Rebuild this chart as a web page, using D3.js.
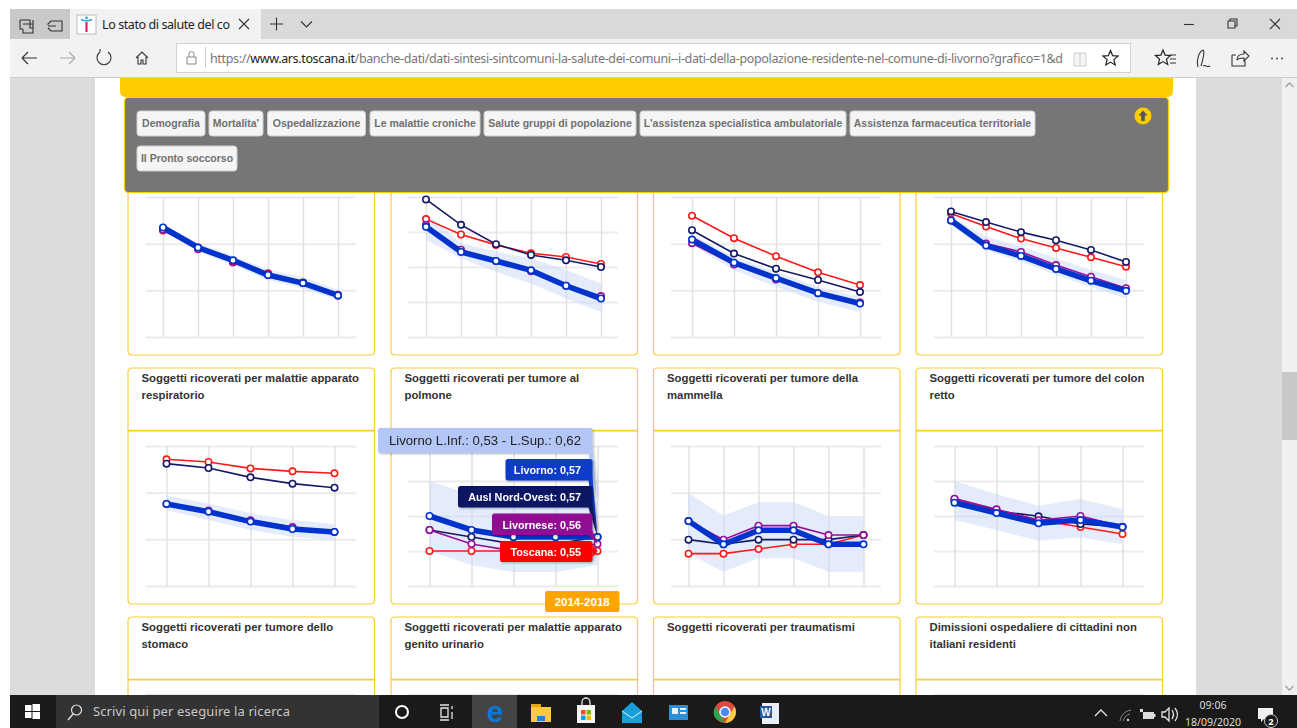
<!DOCTYPE html>
<html>
<head>
<meta charset="utf-8">
<title>Lo stato di salute del comune di Livorno</title>
<script src="https://cdn.jsdelivr.net/npm/d3@7"></script>
<style>
  body { margin: 0; background: #fff; overflow: hidden; }
  text { font-family: "Liberation Sans", Arial, sans-serif; }
  .ui { font-family: "Noto Sans", "Open Sans", sans-serif; }
  .grid path { display: none; }
  .grid-y line { stroke: #ebebeb; stroke-width: 2; }
  .grid-x line { stroke: #e0e0e0; stroke-width: 1.4; }
</style>
</head>
<body>
<svg id="page" width="1297" height="728"></svg>
<script>
// periods on the x axis (only the last one is readable in the picture)
let years6 = ['2013', '2014', '2015', '2016', '2017', '2018'];
let years5 = ['2010-2014', '2011-2015', '2012-2016', '2013-2017', '2014-2018'];

// the y axes have no labels, so most values are in % of the axis height
let ticks4 = [0, 33.33, 66.67, 100];
let ticks5 = [0, 25, 50, 75, 100];
let ticksUrinario = [0.50, 0.55, 0.60, 0.65, 0.70];

let seriesNames = ['Toscana', 'Ausl Nord-Ovest', 'Livornese', 'Livorno'];

let titles = [
  ['Soggetti ricoverati per malattie apparato', 'respiratorio'],
  ['Soggetti ricoverati per tumore al', 'polmone'],
  ['Soggetti ricoverati per tumore della', 'mammella'],
  ['Soggetti ricoverati per tumore del colon', 'retto'],
  ['Soggetti ricoverati per tumore dello', 'stomaco'],
  ['Soggetti ricoverati per malattie apparato', 'genito urinario'],
  ['Soggetti ricoverati per traumatismi'],
  ['Dimissioni ospedaliere di cittadini non', 'italiani residenti']
];

// malattie apparato respiratorio
let respToscana = [76.1, 63.9, 53.3, 45.5, 39.0, 29.9];
let respAusl = [77.0, 63.4, 54.3, 44.5, 38.8, 29.7];
let respLivornese = [76.6, 62.7, 53.6, 45.0, 38.5, 30.1];
let respLivorno = [78.2, 63.9, 54.8, 44.3, 38.5, 29.7];
let respInf = [75.4, 61.0, 51.4, 40.7, 34.7, 26.3];
let respSup = [80.6, 67.0, 58.1, 48.3, 42.6, 33.5];

// tumore al polmone
let polmToscana = [84.2, 73.2, 65.8, 59.8, 57.2, 52.2];
let polmAusl = [98.3, 80.1, 66.3, 58.6, 54.8, 50.0];
let polmLivornese = [80.1, 62.4, 54.3, 46.9, 36.6, 29.2];
let polmLivorno = [78.7, 60.8, 54.3, 47.6, 36.6, 27.5];
let polmInf = [69.4, 56.2, 46.6, 38.3, 27.5, 17.9];
let polmSup = [88.5, 66.9, 61.0, 56.2, 47.8, 38.3];

// tumore della mammella
let mammToscana = [86.6, 70.6, 57.7, 46.2, 37.1];
let mammAusl = [76.3, 59.6, 48.8, 40.7, 32.1];
let mammLivornese = [67.0, 51.7, 41.1, 31.3, 24.6];
let mammLivorno = [69.6, 53.1, 42.1, 31.3, 23.9];
let mammInf = [65.8, 47.8, 35.9, 25.1, 17.9];
let mammSup = [73.0, 57.4, 46.7, 35.9, 28.7];

// tumore del colon retto
let colonToscana = [88.3, 78.9, 70.3, 63.6, 56.9, 50.2];
let colonAusl = [89.7, 82.1, 74.9, 69.1, 62.2, 53.6];
let colonLivornese = [83.3, 66.7, 60.8, 51.4, 43.1, 34.9];
let colonLivorno = [83.3, 65.3, 57.9, 48.6, 40.2, 33.0];
let colonInf = [80.1, 62.2, 53.8, 44.3, 35.9, 27.5];
let colonSup = [86.1, 71.8, 64.6, 56.2, 47.8, 40.7];

// tumore dello stomaco
let stomToscana = [90.5, 88.6, 84.0, 81.9, 80.5];
let stomAusl = [87.4, 84.3, 77.6, 73.1, 70.2];
let stomLivornese = [58.6, 54.0, 46.9, 42.1, 38.6];
let stomLivorno = [58.6, 53.1, 46.0, 40.7, 38.6];
let stomInf = [54.3, 47.1, 40.0, 35.2, 32.9];
let stomSup = [64.5, 59.0, 51.9, 47.1, 44.3];

// malattie apparato genito urinario (the tooltip gives the real values)
let uriToscana = [0.55, 0.55, 0.55, 0.55, 0.55];
let uriAusl = [0.58, 0.57, 0.56, 0.56, 0.57];
let uriLivornese = [0.58, 0.56, 0.55, 0.55, 0.56];
let uriLivorno = [0.60, 0.58, 0.57, 0.57, 0.57];
let uriInf = [0.55, 0.53, 0.52, 0.52, 0.53];
let uriSup = [0.65, 0.63, 0.62, 0.62, 0.62];

// traumatismi
let traumToscana = [23.1, 23.1, 26.4, 29.8, 29.8, 36.4];
let traumAusl = [33.1, 29.8, 33.1, 33.1, 33.1, 36.4];
let traumLivornese = [46.4, 33.1, 43.1, 43.1, 36.4, 36.4];
let traumLivorno = [46.4, 29.8, 39.8, 39.8, 29.8, 29.8];
let traumInf = [23.3, 10.2, 19.8, 19.8, 10.2, 10.2];
let traumSup = [66.2, 50.2, 59.8, 59.8, 50.0, 50.0];

// dimissioni cittadini non italiani
let dimToscana = [62.1, 54.3, 47.1, 42.1, 37.1];
let dimAusl = [60.7, 53.6, 49.8, 44.3, 42.1];
let dimLivornese = [62.4, 54.8, 46.9, 50.0, 42.4];
let dimLivorno = [59.5, 52.1, 44.8, 47.1, 42.1];
let dimInf = [47.1, 40.0, 32.4, 34.8, 29.8];
let dimSup = [75.0, 65.5, 57.4, 62.1, 55.0];

let menuLabels = ['Demografia', "Mortalita'", 'Ospedalizzazione', 'Le malattie croniche',
  'Salute gruppi di popolazione', "L'assistenza specialistica ambulatoriale",
  'Assistenza farmaceutica territoriale', 'Il Pronto soccorso'];

// table used by the drawing code
let charts = [
  { x: years6, ticks: ticks4, lines: [respToscana, respAusl, respLivornese, respLivorno], low: respInf, high: respSup },
  { x: years6, ticks: ticks5, lines: [polmToscana, polmAusl, polmLivornese, polmLivorno], low: polmInf, high: polmSup },
  { x: years5, ticks: ticks4, lines: [mammToscana, mammAusl, mammLivornese, mammLivorno], low: mammInf, high: mammSup },
  { x: years6, ticks: ticks4, lines: [colonToscana, colonAusl, colonLivornese, colonLivorno], low: colonInf, high: colonSup },
  { x: years5, ticks: ticks4, lines: [stomToscana, stomAusl, stomLivornese, stomLivorno], low: stomInf, high: stomSup },
  { x: years5, ticks: ticksUrinario, lines: [uriToscana, uriAusl, uriLivornese, uriLivorno], low: uriInf, high: uriSup },
  { x: years6, ticks: ticks4, lines: [traumToscana, traumAusl, traumLivornese, traumLivorno], low: traumInf, high: traumSup },
  { x: years5, ticks: ticks5, lines: [dimToscana, dimAusl, dimLivornese, dimLivorno], low: dimInf, high: dimSup }
];

// layout of the page
let config = {
  colors: ['#ff1a1a', '#141a66', '#990f99', '#0033cc'],
  widths: [1.6, 1.6, 1.6, 5.6],
  band: '#c9d7f8',
  gold: '#ffcc33',
  colLeft: [128, 391, 653.5, 916],
  panelWidth: 246.5,
  rowTop: [182, 431, 680],
  panelHeight: 173,
  plot: { left: 17.5, top: 15, width: 210, height: 140 }
};

let svg = d3.select('#page');

let defs = svg.append('defs');
defs.append('filter').attr('id', 'tipShadow')
  .attr('x', '-10%').attr('y', '-20%').attr('width', '125%').attr('height', '160%')
  .append('feDropShadow')
  .attr('dx', 1).attr('dy', 1).attr('stdDeviation', 1.2)
  .attr('flood-color', '#000').attr('flood-opacity', 0.3);

drawPage();
drawPanels();
drawMenu();
drawTooltips();
drawBrowser();
drawTaskbar();

function drawPage() {
  rect(svg, 10, 78, 85, 617, '#dcdcdc');
  rect(svg, 1196, 78, 86, 617, '#dcdcdc');
  rect(svg, 1282, 78, 15, 617, '#f0f0f0');
  rect(svg, 1282, 372, 15, 68, '#c8c8c8');
  chevron(svg, 1289.5, 85, 4, -1, '#a0a0a0');
  chevron(svg, 1289.5, 688, 4, 1, '#a0a0a0');
}

function drawPanels() {
  // frames first, the title box ends just above the next chart so the join looks thicker
  config.colLeft.forEach(left => {
    config.rowTop.forEach((top, r) => {
      if (r < 2) {
        let t = top + config.panelHeight + 13;
        frame(left, t, config.panelWidth, top + 248.4 - t, 4, 0);
      }
      frame(left, top, config.panelWidth, config.panelHeight, 0, 4);
    });
    // the top gridline of the third row just shows above the taskbar
    svg.append('line')
      .attr('x1', left + config.plot.left).attr('x2', left + config.plot.left + config.plot.width)
      .attr('y1', 694.5).attr('y2', 694.5)
      .attr('stroke', '#e4e4e4').attr('stroke-width', 1);
  });

  charts.forEach((c, i) => {
    let col = i % 4;
    let row = Math.floor(i / 4);
    let left = config.colLeft[col];
    let top = config.rowTop[row];

    let text = svg.append('text')
      .attr('fill', '#333')
      .attr('font-size', 11.35)
      .attr('font-weight', 'bold');
    titles[i].forEach((t, k) => {
      text.append('tspan')
        .attr('x', left + 13.5)
        .attr('y', top + config.panelHeight + 27 + k * 17)
        .text(t);
    });

    drawChart(c, left + config.plot.left, top + config.plot.top);
  });
}

function scalesFor(c) {
  let x = d3.scalePoint().domain(c.x).range([0, config.plot.width]).padding(0.5);
  let y = d3.scaleLinear()
    .domain([c.ticks[0], c.ticks[c.ticks.length - 1]])
    .range([config.plot.height, 0]);
  return { x: x, y: y };
}

function drawChart(c, px, py) {
  let s = scalesFor(c);
  let plot = svg.append('g').attr('transform', translate(px, py));

  plot.append('g').attr('class', 'grid grid-y')
    .call(d3.axisLeft(s.y).tickValues(c.ticks).tickSize(-config.plot.width).tickFormat(''));
  plot.append('g').attr('class', 'grid grid-x')
    .attr('transform', translate(0, config.plot.height))
    .call(d3.axisBottom(s.x).tickSize(-config.plot.height).tickFormat(''));

  let area = d3.area()
    .x((d, i) => s.x(c.x[i]))
    .y0((d, i) => s.y(c.low[i]))
    .y1(d => s.y(d));
  plot.append('path')
    .datum(c.high)
    .attr('d', area)
    .attr('fill', config.band)
    .attr('fill-opacity', 0.5);

  let line = d3.line()
    .x((d, i) => s.x(c.x[i]))
    .y(d => s.y(d));

  c.lines.forEach((values, k) => {
    plot.append('path')
      .datum(values)
      .attr('d', line)
      .attr('fill', 'none')
      .attr('stroke', config.colors[k])
      .attr('stroke-width', config.widths[k]);
    plot.selectAll(null)
      .data(values)
      .enter().append('circle')
      .attr('cx', (d, i) => s.x(c.x[i]))
      .attr('cy', d => s.y(d))
      .attr('r', 3.2)
      .attr('fill', '#fff')
      .attr('stroke', config.colors[k])
      .attr('stroke-width', 1.6);
  });
}

function drawMenu() {
  // yellow bar and grey box
  svg.append('path')
    .attr('d', 'M120,78H1173V91Q1173,97 1167,97H126Q120,97 120,91Z')
    .attr('fill', '#ffcc00');
  svg.append('rect')
    .attr('x', 124.5).attr('y', 97.5).attr('width', 1044).attr('height', 95)
    .attr('rx', 4)
    .attr('fill', '#767676').attr('stroke', '#ffcc00').attr('stroke-width', 1.2);

  let boxes = [[137, 68], [209, 54], [267.5, 98], [370, 110], [484, 152], [640, 206], [850, 185], [137, 100]];
  boxes.forEach((b, i) => {
    let y = i == 7 ? 146 : 111;
    svg.append('rect')
      .attr('x', b[0]).attr('y', y).attr('width', b[1]).attr('height', 25)
      .attr('rx', 3)
      .attr('fill', '#f5f5f5').attr('stroke', '#cfcfcf');
    svg.append('text')
      .attr('x', b[0] + b[1] / 2).attr('y', y + 16)
      .attr('text-anchor', 'middle')
      .attr('font-size', 10.5).attr('font-weight', 'bold')
      .attr('fill', '#707070')
      .text(menuLabels[i]);
  });

  svg.append('circle').attr('cx', 1143).attr('cy', 116).attr('r', 8.5).attr('fill', '#ffcc00');
  svg.append('path')
    .attr('d', 'M1143,110.5L1147.5,115.5H1144.8V121H1141.2V115.5H1138.5Z')
    .attr('fill', '#555');
}

function drawTooltips() {
  let c = charts[5];
  let s = scalesFor(c);
  let px = config.colLeft[1] + config.plot.left;
  let py = config.rowTop[1] + config.plot.top;
  let last = c.x.length - 1;
  let tipX = px + s.x(c.x[last]);
  let right = 592.5;
  let comma = v => v.toFixed(2).replace('.', ',');

  // one tooltip for the limits, then one per series
  let tips = [
    { left: 378, top: 428, h: 25, fill: '#b3c6f5', color: '#222', size: 13.2, weight: 'normal',
      value: c.high[last], label: 'Livorno L.Inf.: ' + comma(c.low[last]) + ' - L.Sup.: ' + comma(c.high[last]) },
    { left: 505.5, top: 459, h: 21.5, fill: '#0b3cc8', color: '#fff', size: 10.8, weight: 'bold',
      value: c.lines[3][last], label: seriesNames[3] + ': ' + comma(c.lines[3][last]) },
    { left: 458, top: 486, h: 21.5, fill: '#0b1464', color: '#fff', size: 10.8, weight: 'bold',
      value: c.lines[1][last], label: seriesNames[1] + ': ' + comma(c.lines[1][last]) },
    { left: 492, top: 513.5, h: 21.5, fill: '#930f93', color: '#fff', size: 10.8, weight: 'bold',
      value: c.lines[2][last], label: seriesNames[2] + ': ' + comma(c.lines[2][last]) },
    { left: 500, top: 541, h: 21, fill: '#ff0000', color: '#fff', size: 10.8, weight: 'bold',
      value: c.lines[0][last], label: seriesNames[0] + ': ' + comma(c.lines[0][last]) }
  ];

  tips.forEach(t => {
    let g = svg.append('g').attr('filter', 'url(#tipShadow)');
    let ty = py + s.y(t.value);
    let bottom = t.top + t.h;
    // thin tail from the box corner to the point of the series
    let tail = ty > bottom
      ? [[right - 4, bottom], [right, bottom - 4], [tipX, ty]]
      : [[right, ty - 6], [tipX, ty], [right, ty + 6]];
    g.append('rect')
      .attr('x', t.left).attr('y', t.top).attr('width', right - t.left).attr('height', t.h)
      .attr('rx', 2.5)
      .attr('fill', t.fill);
    g.append('path')
      .attr('d', 'M' + tail.join('L') + 'Z')
      .attr('fill', t.fill);
    g.append('text')
      .attr('x', 581).attr('y', t.top + t.h / 2 + 4.3)
      .attr('text-anchor', 'end')
      .attr('font-size', t.size)
      .attr('font-weight', t.weight)
      .attr('fill', t.color)
      .text(t.label);
  });

  // period label on the x axis
  rect(svg, 545, 591, 74.5, 21, '#ffa500').attr('rx', 2);
  svg.append('text')
    .attr('x', 582.2).attr('y', 605.5)
    .attr('text-anchor', 'middle')
    .attr('font-size', 11.5).attr('font-weight', 'bold')
    .attr('fill', '#fff')
    .text(c.x[last]);
}

function drawBrowser() {
  rect(svg, 10, 9, 1287, 30, '#d9d9d9');
  rect(svg, 10, 9, 60, 30, '#c9c9c9');
  rect(svg, 70, 9, 191, 30, '#f2f2f2');
  rect(svg, 10, 39, 1287, 38, '#f2f2f2');
  rect(svg, 10, 77, 1287, 1, '#cccccc');

  // tab buttons
  let stroke = { fill: 'none', stroke: '#333', 'stroke-width': 1.1 };
  icon('M20,20h10v8h3v-8M20,20v9h3M23,24h10v9h-10v-4', stroke);
  icon('M49,24h-1l3,-3h11v10h-11l-3,-3M48,26h8', stroke);

  // favicon
  rect(svg, 77, 15, 19, 19, '#fff').attr('stroke', '#bbb');
  icon('M81,19.5C84,21 89,21 92,19.5', { fill: 'none', stroke: '#25a7dc', 'stroke-width': 1.8 });
  icon('M86.5,22V32', { fill: 'none', stroke: '#e0245e', 'stroke-width': 2.2 });
  svg.append('circle').attr('cx', 86.5).attr('cy', 17.8).attr('r', 1.4).attr('fill', '#25a7dc');

  uiText(102, 28.5, 'Lo stato di salute del co', 12.5, '#222').attr('textLength', 128);
  icon('M239,19l10,10M249,19l-10,10', stroke);
  icon('M270,24h13M276.5,17.5v13', stroke);
  icon('M301,21.5l5.5,5.5l5.5,-5.5', stroke);

  // window controls
  icon('M1184,24.5h10', stroke);
  icon('M1228,21h7v7h-7zM1230,21v-2h7v7h-2', stroke);
  icon('M1270,19l10,10M1280,19l-10,10', stroke);

  // navigation
  icon('M22,58h15M22,58l6,-6M22,58l6,6', stroke);
  icon('M60,58h15M75,58l-6,-6M75,58l-6,6', { fill: 'none', stroke: '#aaa', 'stroke-width': 1.1 });
  icon('M100,52a7,7 0 1 0 8,0M100,52v-3', stroke);
  icon('M136,58l6,-6l6,6M138,57v7h3v-4h2v4h3v-7', stroke);

  // address bar
  svg.append('rect')
    .attr('x', 176.5).attr('y', 43.5).attr('width', 954).attr('height', 29)
    .attr('fill', '#fff').attr('stroke', '#d2d2d2');
  icon('M187,57h9v7h-9zM189,57v-3a2.5,2.5 0 0 1 5,0v3', { fill: 'none', stroke: '#888', 'stroke-width': 1 });
  rect(svg, 205, 47, 1, 21, '#ccc');

  let url = uiText(210, 63, '', 12.5, '#767676').attr('textLength', 853);
  url.append('tspan').text('https://');
  url.append('tspan').attr('fill', '#222').text('www.ars.toscana.it');
  url.append('tspan').text('/banche-dati/dati-sintesi-sintcomuni-la-salute-dei-comuni--i-dati-della-popolazione-residente-nel-comune-di-livorno?grafico=1&d');

  icon('M1074,53h12v13h-12zM1080,53v13', { fill: '#f5f5f5', stroke: '#ccc', 'stroke-width': 1 });
  star(1110.5, 58.5, '#222');
  star(1163, 58, '#222');
  icon('M1170,55h6M1170,59h6M1170,63h6', stroke);
  icon('M1198,67C1196,60 1199,52 1203,50C1205,50 1203,60 1201,66M1203,66c2,-2 4,2 7,0', stroke);
  icon('M1232,55h4M1232,55v11h13v-5M1237,60c0,-4 3,-6 7,-6v-3l5,5l-5,5v-3c-3,0 -5,0 -7,2', stroke);
  [1272, 1277, 1282].forEach(x => {
    svg.append('circle').attr('cx', x).attr('cy', 58.5).attr('r', 0.9).attr('fill', '#333');
  });
}

function drawTaskbar() {
  rect(svg, 10, 695, 1287, 33, '#1a1a1a');
  rect(svg, 56, 695, 323, 33, '#333');

  // windows logo
  [[25, 705, 6.5, 6], [32.5, 704, 7.5, 7], [25, 712, 6.5, 6], [32.5, 712, 7.5, 7]].forEach(d => {
    rect(svg, d[0], d[1], d[2], d[3], '#fff');
  });

  let white = { fill: 'none', stroke: '#e6e6e6', 'stroke-width': 1.3 };
  svg.append('circle').attr('cx', 76.5).attr('cy', 710).attr('r', 5)
    .attr('fill', 'none').attr('stroke', '#ddd').attr('stroke-width', 1.2);
  icon('M73,714l-5,6', white);
  uiText(93, 716, 'Scrivi qui per eseguire la ricerca', 13, '#c8c8c8').attr('textLength', 197);

  svg.append('circle').attr('cx', 402).attr('cy', 712).attr('r', 6)
    .attr('fill', 'none').attr('stroke', '#fff').attr('stroke-width', 2);
  icon('M440,705h9M440,720h9M441,708h7v9h-7zM452,706v3M452,712v7', white);

  // edge
  rect(svg, 472, 695, 45, 33, '#444');
  svg.append('text').attr('x', 495).attr('y', 722).attr('text-anchor', 'middle')
    .attr('font-size', 30).attr('font-weight', 'bold').attr('fill', '#0a78d7').text('e');

  // folder
  rect(svg, 531, 704, 10, 4, '#e0a800');
  rect(svg, 531, 707, 20, 15, '#ffc83d');
  rect(svg, 537, 716, 8, 5, '#2a7de1');

  // store
  rect(svg, 577, 705, 18, 18, '#f5f5f5');
  icon('M582,705v-3a4,4 0 0 1 8,0v3', white);
  [[581, 710, '#f25022'], [586.5, 710, '#7fba00'], [581, 715.5, '#00a4ef'], [586.5, 715.5, '#ffb900']].forEach(d => {
    rect(svg, d[0], d[1], 4.5, 4.5, d[2]);
  });

  // mail
  icon('M622,711l10,-9l10,9v12h-20z', { fill: '#18a0dc', stroke: 'none' });
  icon('M622,711l10,7l10,-7', { fill: 'none', stroke: '#d6f0fb', 'stroke-width': 1 });

  // news
  rect(svg, 669, 705, 19, 15, '#2b8fd8');
  rect(svg, 672, 708, 6, 6, '#e8f4fc');
  rect(svg, 680, 708, 6, 2, '#e8f4fc');
  rect(svg, 680, 712, 6, 2, '#e8f4fc');

  // chrome
  svg.append('circle').attr('cx', 725).attr('cy', 712).attr('r', 11).attr('fill', '#dd4b3e');
  icon('M715.5,706.5L725,723L716,719A11,11 0 0 1 715.5,706.5Z', { fill: '#2da44e', stroke: 'none' });
  icon('M725,723L734.5,706.5A11,11 0 0 1 725,723Z', { fill: '#ffcd40', stroke: 'none' });
  svg.append('circle').attr('cx', 725).attr('cy', 712).attr('r', 5).attr('fill', '#4a8af4').attr('stroke', '#fff').attr('stroke-width', 1.5);

  // word
  rect(svg, 762, 703, 17, 21, '#e9eef7');
  rect(svg, 760, 706, 12, 12, '#2b579a');
  svg.append('text').attr('x', 766).attr('y', 716).attr('text-anchor', 'middle')
    .attr('font-size', 10).attr('font-weight', 'bold').attr('fill', '#fff').text('W');

  // tray
  icon('M1095,716l6,-6l6,6', white);
  icon('M1120,721c1,-6 5,-10 11,-11M1123,721c1,-3 3,-6 7,-7', { fill: 'none', stroke: '#888', 'stroke-width': 1 });
  svg.append('circle').attr('cx', 1128).attr('cy', 720).attr('r', 1.2).attr('fill', '#ddd');
  rect(svg, 1143, 712, 11, 7, '#ddd');
  rect(svg, 1154, 714, 1.5, 3, '#ddd');
  rect(svg, 1140, 709, 3, 3, '#ddd');
  icon('M1162,712h3l4,-4v13l-4,-4h-3zM1172,710c2,3 2,6 0,9M1175,708c3,4 3,9 0,13', white);

  uiText(1213, 709, '09:06', 10.5, '#ddd').attr('text-anchor', 'middle');
  uiText(1213, 726, '18/09/2020', 10.5, '#ddd').attr('text-anchor', 'middle');

  icon('M1258,708h15v11h-9l-3,3v-3h-3z', { fill: '#f0f0f0', stroke: 'none' });
  svg.append('circle').attr('cx', 1271).attr('cy', 721).attr('r', 6.5).attr('fill', '#1a1a1a').attr('stroke', '#ccc');
  uiText(1271, 724.5, '2', 9.5, '#fff').attr('text-anchor', 'middle').attr('font-weight', 'bold');
}

// frame of a chart or a title box, only some corners are rounded
function frame(x, y, w, h, rTop, rBottom) {
  let x2 = x + w;
  let y2 = y + h;
  let d = 'M' + (x + rTop) + ',' + y + 'H' + (x2 - rTop)
    + 'Q' + x2 + ',' + y + ' ' + x2 + ',' + (y + rTop)
    + 'V' + (y2 - rBottom)
    + 'Q' + x2 + ',' + y2 + ' ' + (x2 - rBottom) + ',' + y2
    + 'H' + (x + rBottom)
    + 'Q' + x + ',' + y2 + ' ' + x + ',' + (y2 - rBottom)
    + 'V' + (y + rTop)
    + 'Q' + x + ',' + y + ' ' + (x + rTop) + ',' + y + 'Z';
  svg.append('path')
    .attr('d', d)
    .attr('fill', '#fff')
    .attr('stroke', config.gold)
    .attr('stroke-width', 1.2);
}

function rect(parent, x, y, w, h, fill) {
  return parent.append('rect')
    .attr('x', x).attr('y', y).attr('width', w).attr('height', h)
    .attr('fill', fill);
}

function icon(d, style) {
  let p = svg.append('path').attr('d', d);
  for (let k in style) p.attr(k, style[k]);
  return p;
}

function uiText(x, y, str, size, color) {
  return svg.append('text')
    .attr('class', 'ui')
    .attr('x', x).attr('y', y)
    .attr('font-size', size)
    .attr('fill', color)
    .text(str);
}

function chevron(parent, x, y, r, dir, color) {
  parent.append('path')
    .attr('d', 'M' + (x - r) + ',' + (y - dir * 2) + 'L' + x + ',' + (y + dir * 2) + 'L' + (x + r) + ',' + (y - dir * 2))
    .attr('fill', 'none').attr('stroke', color).attr('stroke-width', 1.3);
}

function star(x, y, color) {
  let points = d3.range(10).map(i => {
    let r = i % 2 ? 3.6 : 8;
    let a = -Math.PI / 2 + i * Math.PI / 5;
    return [x + r * Math.cos(a), y + r * Math.sin(a)];
  });
  svg.append('path')
    .attr('d', 'M' + points.join('L') + 'Z')
    .attr('fill', 'none').attr('stroke', color).attr('stroke-width', 1.2);
}

// helper method to make translating easier
function translate(x, y) {
  return 'translate(' + x + ',' + y + ')';
}
</script>
</body>
</html>
